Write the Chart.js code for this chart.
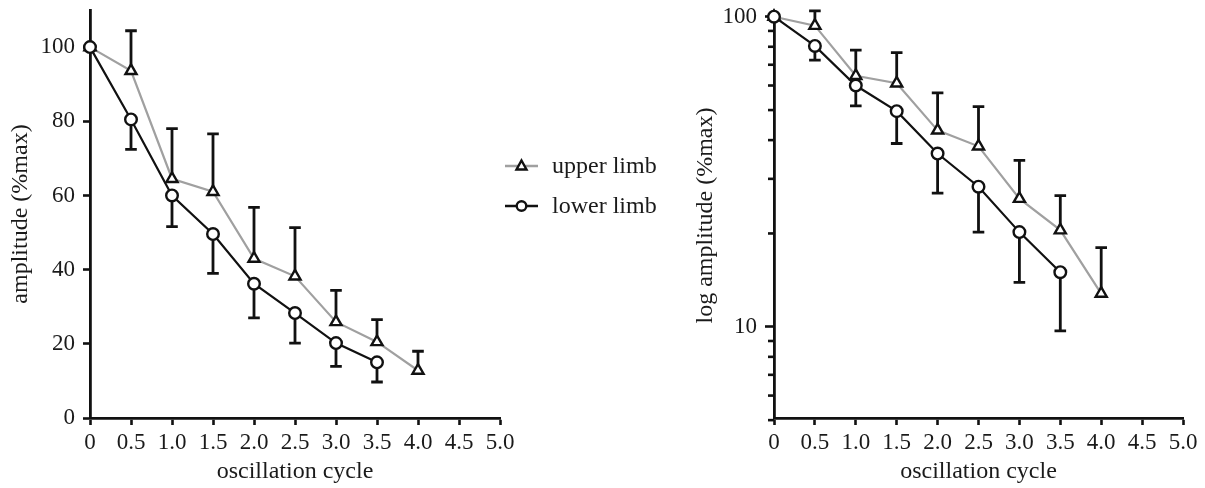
<!DOCTYPE html>
<html>
<head>
<meta charset="utf-8">
<script src="https://cdn.jsdelivr.net/npm/chart.js@4.4.0/dist/chart.umd.min.js"></script>
<style>
  html, body { margin: 0; padding: 0; background: #fff; width: 1205px; height: 488px; overflow: hidden; }
  #c1 { position: absolute; left: 0; top: 0; width: 600px; height: 488px; }
  #c2 { position: absolute; left: 685px; top: 0; width: 520px; height: 488px; }
  .leg { position: absolute; font-family: "Liberation Serif", serif; font-size: 24px; color: #1a1a1a; line-height: 26px; white-space: nowrap; }
  .legsym { position: absolute; }
</style>
</head>
<body>
<canvas id="c1" width="600" height="488"></canvas>
<canvas id="c2" width="520" height="488"></canvas>

<svg class="legsym" style="left:500px;top:152px" width="44" height="28">
  <line x1="5" y1="14" x2="38" y2="14" stroke="#a0a0a0" stroke-width="2.5"/>
  <polygon points="21.5,8.5 26.5,17.5 16.5,17.5" fill="#fff" stroke="#111" stroke-width="2.4"/>
</svg>
<div class="leg" style="left:552px;top:152px">upper limb</div>
<svg class="legsym" style="left:500px;top:192px" width="44" height="28">
  <line x1="5" y1="14" x2="38" y2="14" stroke="#111" stroke-width="2.5"/>
  <circle cx="21.5" cy="14" r="4.8" fill="#fff" stroke="#111" stroke-width="2.4"/>
</svg>
<div class="leg" style="left:552px;top:192px">lower limb</div>

<script>
// ---- data ----
const upperCycles = [0, 0.5, 1.0, 1.5, 2.0, 2.5, 3.0, 3.5, 4.0];
const upperMean   = [100, 93.6, 64.5, 61.0, 43.0, 38.2, 25.9, 20.5, 12.8];
const upperSD     = [0, 10.8, 13.5, 15.6, 13.8, 13.1, 8.5, 6.0, 5.2];

const lowerCycles = [0, 0.5, 1.0, 1.5, 2.0, 2.5, 3.0, 3.5];
const lowerMean   = [100, 80.5, 60.0, 49.6, 36.2, 28.3, 20.2, 15.0];
const lowerSD     = [0, 8.1, 8.4, 10.6, 9.2, 8.1, 6.3, 5.3];

const xTicks      = [0, 0.5, 1.0, 1.5, 2.0, 2.5, 3.0, 3.5, 4.0, 4.5, 5.0];
const linTicks    = [0, 20, 40, 60, 80, 100];
const logTicks    = [5, 6, 7, 8, 9, 10, 20, 30, 40, 50, 60, 70, 80, 90, 100];
const logLabelled = [10, 100];

const seriesNames = ['upper limb', 'lower limb'];
const xTitle = 'oscillation cycle';
const yTitleLin = 'amplitude (%max)';
const yTitleLog = 'log amplitude (%max)';

// ---- helpers ----
const FONT = 'Liberation Serif';
const INK = '#111';
const TXT = '#1a1a1a';
const GREY = '#a0a0a0';
const TICK_SIZE = 23;
const TITLE_SIZE = 24;

function pts(xs, ys) { return xs.map((x, i) => ({ x: x, y: ys[i] })); }

function makeDatasets() {
  return [
    {
      label: seriesNames[0],
      data: pts(upperCycles, upperMean),
      errors: upperSD, errDir: 1,
      borderColor: GREY, borderWidth: 2.2,
      pointStyle: 'triangle', pointRadius: 6.4, pointBorderWidth: 2.4,
      pointBorderColor: INK, pointBackgroundColor: '#fff',
      clip: false, order: 2, tension: 0
    },
    {
      label: seriesNames[1],
      data: pts(lowerCycles, lowerMean),
      errors: lowerSD, errDir: -1,
      borderColor: INK, borderWidth: 2.2,
      pointStyle: 'circle', pointRadius: 5.8, pointBorderWidth: 2.4,
      pointBorderColor: INK, pointBackgroundColor: '#fff',
      clip: false, order: 1, tension: 0
    }
  ];
}

const errorBars = {
  id: 'errorBars',
  beforeDatasetsDraw(chart) {
    const ctx = chart.ctx;
    const xs = chart.scales.x, ys = chart.scales.y;
    chart.data.datasets.forEach(ds => {
      if (!ds.errors) return;
      ctx.save();
      ctx.strokeStyle = INK;
      ctx.lineWidth = 2.8;
      ctx.lineCap = 'butt';
      ds.data.forEach((p, j) => {
        const e = ds.errors[j];
        if (!e) return;
        const px = xs.getPixelForValue(p.x);
        const y0 = ys.getPixelForValue(p.y);
        const y1 = ys.getPixelForValue(p.y + ds.errDir * e);
        ctx.beginPath();
        ctx.moveTo(px, y0); ctx.lineTo(px, y1);
        ctx.moveTo(px - 5.8, y1); ctx.lineTo(px + 5.8, y1);
        ctx.stroke();
      });
      ctx.restore();
    });
  }
};

function noScalePad(s) { s.paddingTop = 0; s.paddingBottom = 0; s.paddingLeft = 0; s.paddingRight = 0; }

function xScale() {
  return {
    type: 'linear', min: 0, max: 5,
    afterBuildTicks: s => { s.ticks = xTicks.map(v => ({ value: v })); },
    afterFit: s => { s.height = 70; noScalePad(s); },
    ticks: {
      autoSkip: false, maxRotation: 0, padding: 4, color: TXT,
      font: { family: FONT, size: TICK_SIZE },
      callback: v => (v === 0 ? '0' : Number(v).toFixed(1))
    },
    grid: { drawOnChartArea: false, drawTicks: true, tickLength: 7, tickColor: INK, tickWidth: 2.6 },
    border: { display: true, color: INK, width: 2.8 },
    title: { display: true, text: xTitle, color: TXT, font: { family: FONT, size: TITLE_SIZE }, padding: { top: 0, bottom: 2 } }
  };
}

// ---- left chart: linear amplitude ----
new Chart(document.getElementById('c1'), {
  type: 'line',
  data: { datasets: makeDatasets() },
  options: {
    responsive: false, animation: false, devicePixelRatio: 1,
    layout: { padding: { left: 0, top: 10, right: 100, bottom: 0 } },
    plugins: { legend: { display: false }, tooltip: { enabled: false } },
    scales: {
      x: xScale(),
      y: {
        type: 'linear', min: 0, max: 110,
        afterBuildTicks: s => { s.ticks = linTicks.map(v => ({ value: v })); },
        afterFit: s => { s.width = 90; noScalePad(s); },
        ticks: { autoSkip: false, padding: 8, color: TXT, font: { family: FONT, size: TICK_SIZE } },
        grid: { drawOnChartArea: false, drawTicks: true, tickLength: 7, tickColor: INK, tickWidth: 2.6 },
        border: { display: true, color: INK, width: 2.8 },
        title: { display: true, text: yTitleLin, color: TXT, font: { family: FONT, size: TITLE_SIZE }, padding: { top: 6, bottom: 0 } }
      }
    }
  },
  plugins: [errorBars]
});

// ---- right chart: log amplitude ----
const minorTicks = {
  id: 'minorTicks',
  afterDraw(chart) {
    const ctx = chart.ctx, ys = chart.scales.y;
    const left = chart.chartArea.left;
    ctx.save();
    ctx.strokeStyle = INK;
    ctx.lineWidth = 2.6;
    logTicks.forEach(v => {
      if (logLabelled.includes(v)) return;
      const y = ys.getPixelForValue(v);
      ctx.beginPath(); ctx.moveTo(left - 6, y); ctx.lineTo(left, y); ctx.stroke();
    });
    ctx.restore();
  }
};

new Chart(document.getElementById('c2'), {
  type: 'line',
  data: { datasets: makeDatasets() },
  options: {
    responsive: false, animation: false, devicePixelRatio: 1,
    layout: { padding: { left: 0, top: 13, right: 22, bottom: 0 } },
    plugins: { legend: { display: false }, tooltip: { enabled: false } },
    scales: {
      x: xScale(),
      y: {
        type: 'logarithmic', min: 5.08, max: 102.8,
        afterBuildTicks: s => { s.ticks = logTicks.map(v => ({ value: v, major: logLabelled.includes(v) })); },
        afterFit: s => { s.width = 89; noScalePad(s); },
        ticks: {
          autoSkip: false, padding: 8, color: TXT, font: { family: FONT, size: TICK_SIZE },
          callback: v => (logLabelled.includes(v) ? String(v) : '')
        },
        grid: {
          drawOnChartArea: false, drawTicks: true, tickLength: 9, tickWidth: 2.6,
          tickColor: c => (c.tick && logLabelled.includes(c.tick.value) ? INK : 'rgba(0,0,0,0)')
        },
        border: { display: true, color: INK, width: 2.8 },
        title: { display: true, text: yTitleLog, color: TXT, font: { family: FONT, size: TITLE_SIZE }, padding: { top: 6, bottom: 0 } }
      }
    }
  },
  plugins: [errorBars, minorTicks]
});
</script>
</body>
</html>
